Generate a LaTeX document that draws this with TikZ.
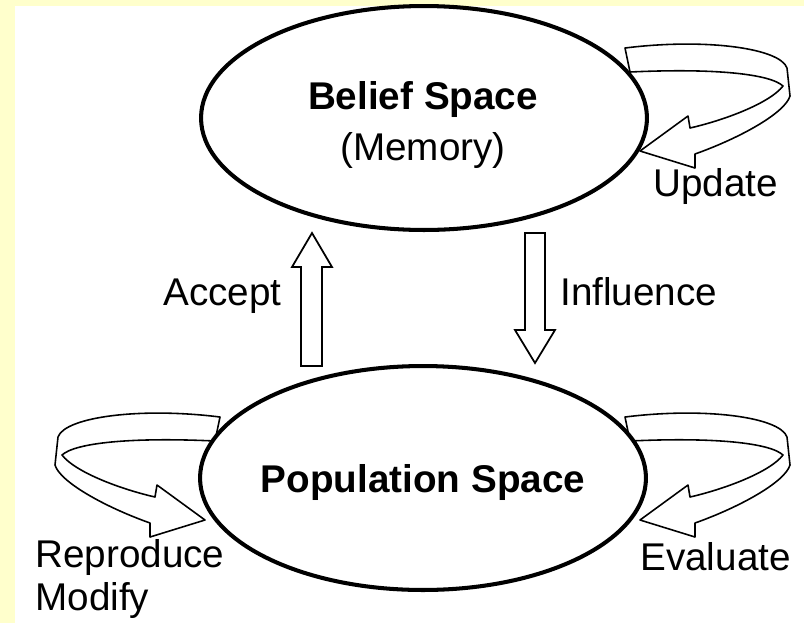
\documentclass[tikz,border=0pt]{standalone}
\usepackage{fontspec}
\setmainfont{Liberation Sans}
\usetikzlibrary{shapes.geometric, positioning, calc}

\definecolor{paleyellow}{HTML}{FFFFCC}

\tikzset{
    ribbon/.pic={
        \draw[line width=0.9pt, fill=white, line join=round]
            (0,0) .. controls (80,-10) and (155,0) .. (162,20)
            -- (165,48) .. controls (160,65) and (115,90) .. (70,106)
            -- (70,120) -- (15,103) -- (63,68) -- (65,80)
            .. controls (100,72) and (145,55) .. (158,38)
            .. controls (145,26) and (90,20) .. (5,24) -- cycle;
    }
}

\begin{document}
\begin{tikzpicture}[
        x=0.02cm, y=-0.02cm,
        space/.style={ellipse, draw, line width=2.3pt, fill=white, minimum width=8.92cm, minimum height=4.48cm, inner sep=0pt},
        lbl/.style={font=\fontsize{22}{24}\selectfont, inner sep=0pt, align=left},
        block/.style={draw, line width=1pt, fill=white, line join=miter}
    ]
        \fill[paleyellow] (0,0) rectangle (804,623);
        \fill[white] (15,6) rectangle (804,623);
        \useasboundingbox (0,0) rectangle (804,623);

        % loops go first, the ellipses hide their ends
        \pic (updateloop) at (625,48) {ribbon};
        \pic (evalloop) at (625,417) {ribbon};
        \pic[xscale=-1] (reproloop) at (220,417) {ribbon};

        \node[space] (belief) at (424,118) {};
        \node[space] (population) at (423,478) {};

        % base of a two line node is its last line
        \node[lbl, align=center, anchor=base, font=\fontsize{22}{28.5}\selectfont] (belieftext) at (423,160) {\textbf{Belief Space}\\(Memory)};
        \node[lbl, anchor=base, font=\fontsize{22}{24}\selectfont\bfseries] (poptext) at (423,492) {Population Space};

        % block arrows
        \draw[block] (301,366) -- (301,267) -- (292,267) -- (312,233) -- (332,267) -- (322,267) -- (322,366) -- cycle;
        \draw[block] (525,233) -- (545,233) -- (545,330) -- (555,330) -- (535,363) -- (515,330) -- (525,330) -- cycle;

        \node[lbl, anchor=base west] (accept) at (163,305) {Accept};
        \node[lbl, anchor=base west] (influence) at (560,305) {Influence};
        \node[lbl, anchor=base west] (update) at (653,196) {Update};
        \node[lbl, anchor=base west] (evaluate) at (640,570) {Evaluate};
        \node[lbl, anchor=base west] (reproduce) at (35,610) {Reproduce\\Modify};
    \end{tikzpicture}
\end{document}
